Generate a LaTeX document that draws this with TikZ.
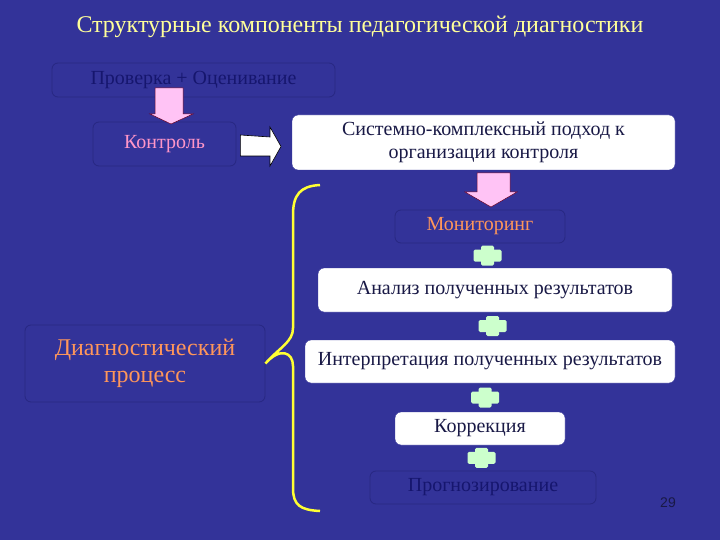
\documentclass[tikz,border=0pt]{standalone}
\usepackage{fontspec}
\setmainfont{Liberation Serif}
\setsansfont{Liberation Sans}
\usetikzlibrary{calc,positioning}

\definecolor{slidebg}{RGB}{51,51,153}
\definecolor{ghostline}{RGB}{40,40,130}
\definecolor{titletext}{RGB}{255,255,153}
\definecolor{navytext}{RGB}{22,22,110}
\definecolor{boxtext}{RGB}{25,25,70}
\definecolor{pinktext}{RGB}{255,150,200}
\definecolor{orangetext}{RGB}{255,150,90}
\definecolor{pinkfill}{RGB}{255,195,245}
\definecolor{plusgreen}{RGB}{204,255,204}
\definecolor{bracecol}{RGB}{255,255,51}

\tikzset{
  plusmark/.pic={
    \fill[plusgreen, rounded corners=1.5pt] (-6.5,-10) rectangle (6.5,10);
    \fill[plusgreen, rounded corners=1.5pt] (-14,-6) rectangle (14,6);
  }
}

\begin{document}
\begin{tikzpicture}[
    x=1pt, y=-1pt,
    every node/.style={font=\fontsize{20}{23}\selectfont, align=center, inner sep=2pt},
    ghost/.style={rounded corners=6pt, draw=ghostline, fill=slidebg, line width=0.8pt},
    whitebox/.style={rounded corners=6pt, draw=slidebg, fill=white, text=boxtext},
    pinkarrow/.style={draw=purple!55!black, line width=0.5pt, fill=pinkfill},
    whitearrow/.style={draw=black, line width=0.6pt, fill=white}
]
\fill[slidebg] (0,0) rectangle (720,540);
\useasboundingbox (0,0) rectangle (720,540);

% --- Title ---
\node[font=\fontsize{24}{28}\selectfont, text=titletext] (title) at (360,27)
    {Структурные компоненты педагогической диагностики};

% --- Nodes ---
\node[ghost, minimum width=283, minimum height=34, text=navytext] (prov) at (193.5,80) {Проверка + Оценивание};
\node[ghost, minimum width=143, minimum height=44, text=pinktext] (kontr) at (164.5,144) {Контроль};
\node[whitebox, minimum width=383, minimum height=55] (sist) at (483.5,142.5)
    {Системно-комплексный подход к\\организации контроля};
\node[ghost, minimum width=170, minimum height=33, text=orangetext] (mon) at (480,226.5) {Мониторинг};
\node[whitebox, minimum width=354, minimum height=44] (anal) at (495,290) {Анализ полученных результатов};
\node[whitebox, minimum width=370, minimum height=43] (interp) at (490,361.5) {Интерпретация полученных результатов};
\node[whitebox, minimum width=170, minimum height=33] (korr) at (480,428.5) {Коррекция};
\node[ghost, minimum width=226, minimum height=33, text=navytext] (prog) at (483,487.5) {Прогнозирование};
\node[ghost, minimum width=240, minimum height=77, text=orangetext, font=\fontsize{24}{27}\selectfont] (diag) at (145,363.5)
    {Диагностический\\процесс};

% --- Block arrows ---
\draw[pinkarrow] (155,88) -- (183,88) -- (183,114) -- (193,114) -- (171,124)
  -- (150,114) -- (155,114) -- cycle;
\draw[whitearrow] ($(kontr.east)+(4,-9)$) -- (270,137) -- (270,127) -- (281,146.5)
  -- (270,166) -- (270,156) -- ($(kontr.east)+(4,12)$) -- cycle;
\draw[pinkarrow] (477,173) -- (510,173) -- (510,192) -- (517,192) -- (491,207)
  -- (465,192) -- (477,192) -- cycle;

% --- Pluses ---
\foreach \a/\b in {mon/anal, anal/interp, interp/korr, korr/prog}
  \pic at ($(\a.south)!.5!(\b.north)$) {plusmark};

% --- Brace ---
\draw[bracecol, line width=2.5pt]
  (320,185) .. controls (300,186) and (293,195) .. (293,215) -- (293,328)
  .. controls (293,342) and (280,347) .. (diag.east)
  .. controls (280,347) and (293,352) .. (293,366) -- (293,488)
  .. controls (293,505) and (300,510) .. (320,511);

% --- Page number ---
\node[font=\sffamily\fontsize{14}{16}\selectfont, text=boxtext] (page) at (668,503) {29};

\end{tikzpicture}
\end{document}
